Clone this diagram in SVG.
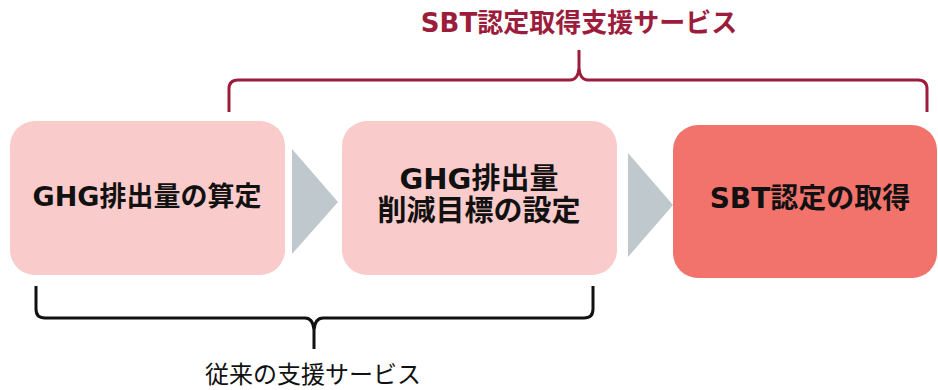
<svg xmlns="http://www.w3.org/2000/svg" width="938" height="390" viewBox="0 0 938 390">
<style>
.box-light{fill:#f9cbca;}
.box-dark{fill:#f1736c;}
.chev{fill:#bfc8cc;}
.lbl{font-family:'DejaVu Sans','Noto Sans CJK JP',sans-serif;font-weight:bold;fill:#111;text-anchor:middle;}
.title{font-family:'DejaVu Sans','Noto Sans CJK JP',sans-serif;font-weight:bold;fill:#9c1c3c;text-anchor:middle;font-size:26px;}
.sub{font-family:'Noto Sans CJK JP',sans-serif;fill:#111;text-anchor:middle;font-size:24px;}
.brace{fill:none;stroke-width:3;stroke-linecap:butt;stroke-linejoin:round;}
</style>
<rect width="938" height="390" fill="#ffffff"/>
<g id="node-ghg-calc">
<rect class="box-light" x="10" y="121" width="275" height="154" rx="25"/>
<text class="lbl" x="147" y="206" font-size="27">GHG排出量の算定</text>
</g>
<g id="node-ghg-target">
<rect class="box-light" x="342" y="121" width="275" height="154" rx="25"/>
<text class="lbl" x="479" y="189" font-size="29">GHG排出量</text>
<text class="lbl" x="479" y="221" font-size="29">削減目標の設定</text>
</g>
<g id="node-sbt">
<rect class="box-dark" x="673" y="125" width="264" height="153" rx="25"/>
<text class="lbl" x="810" y="208" font-size="28">SBT認定の取得</text>
</g>
<g id="connectors">
<polygon class="chev" points="292,149 338,202 292,254"/>
<polygon class="chev" points="628,153 673,205 628,257"/>
<path class="brace" stroke="#9c1c3c" d="M229,112 V89 Q229,80 238,80 H570 Q578,80 579,68 V50 M579,68 Q580,80 588,80 H918 Q927,80 927,89 V112"/>
<path class="brace" stroke="#111" d="M36,286 V309 Q36,318 45,318 H305 Q313,318 314,330 V349 M314,330 Q315,318 323,318 H584 Q593,318 593,309 V286"/>
</g>
<g id="labels">
<text class="title" x="579" y="32">SBT認定取得支援サービス</text>
<text class="sub" x="313" y="383">従来の支援サービス</text>
</g>
</svg>
